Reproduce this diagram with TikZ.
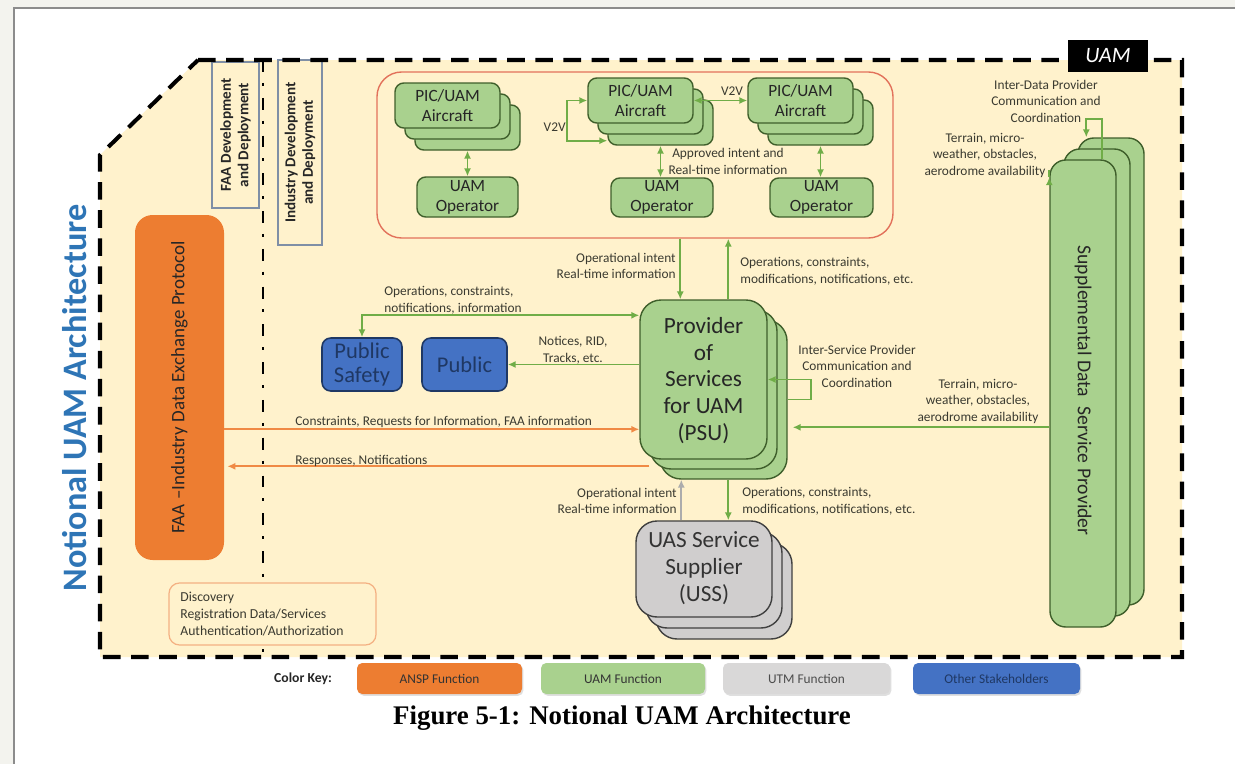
\documentclass[tikz,border=0pt]{standalone}
\usepackage{fontspec}
\setmainfont{Carlito}
\newfontfamily\capfont{Liberation Serif}
\usetikzlibrary{arrows.meta,fit,calc,shadows}
\definecolor{bgyel}{HTML}{FFF2CC}
\definecolor{gfill}{HTML}{A9D18E}
\definecolor{gline}{HTML}{3F5F2B}
\definecolor{garrow}{HTML}{70AD47}
\definecolor{orng}{HTML}{ED7D31}
\definecolor{orarr}{HTML}{F08A45}
\definecolor{bfill}{HTML}{4472C4}
\definecolor{bline}{HTML}{1F3864}
\definecolor{grfill}{HTML}{D0CECE}
\definecolor{grline}{HTML}{404040}
\definecolor{redl}{HTML}{E2725B}
\definecolor{ttlblue}{HTML}{2E75B6}
\definecolor{outerbg}{HTML}{F3F3EE}
\definecolor{framegr}{HTML}{8C8C8C}
\definecolor{lbltxt}{HTML}{3A3A30}
\definecolor{devgr}{HTML}{7F8FA6}
\begin{document}
\begin{tikzpicture}[x=0.02cm,y=-0.02cm,>={Latex[length=4.5pt,width=4pt]},
 lbl/.style={font=\fontsize{7.6}{9.4}\selectfont, text=lbltxt, inner sep=0pt, align=center},
 garr/.style={draw=garrow, line width=1.1pt},
 oarr/.style={draw=orarr, line width=1pt},
 grarr/.style={draw=gray!65, line width=1pt},
 gbox/.style={draw=gline, fill=gfill, line width=0.8pt, inner sep=0pt},
 acbox/.style={gbox, rounded corners=5pt},
 bigbox/.style={gbox, rounded corners=12pt},
 ussbox/.style={draw=grline, fill=grfill, line width=0.8pt, rounded corners=12pt, inner sep=0pt},
 pubbox/.style={draw=bline, fill=bfill, line width=0.9pt, rounded corners=5pt, inner sep=0pt},
 devbox/.style={draw=devgr, line width=0.7pt, inner sep=0pt},
 keybox/.style={rounded corners=3pt, inner sep=0pt, drop shadow={shadow xshift=0.8pt, shadow yshift=-1pt, opacity=0.25}},
 actxt/.style={align=center, inner sep=0pt, text=black!85, font=\fontsize{9.8}{11.5}\selectfont},
 bigtxt/.style={align=center, inner sep=0pt, text=black!85, font=\fontsize{13.2}{15.3}\selectfont},
 pubtxt/.style={align=center, inner sep=0pt, text=bline, font=\fontsize{12.8}{14.2}\selectfont},
 keytxt/.style={inner sep=0pt, font=\fontsize{7.6}{9}\selectfont},
]
\useasboundingbox (0,0) rectangle (1235,764);
% page background and frame
\fill[outerbg] (0,0) rectangle (1235,764);
\fill[white] (14,8) rectangle (1235,764);
\draw[framegr, line width=0.8pt] (14,764) -- (14,8) -- (1235,8);

% UAM region fill
\fill[bgyel] (198,60) -- (1182,60) -- (1182,657) -- (100,657) -- (100,155) -- cycle;

% title
\node[rotate=90, font=\bfseries\fontsize{19.5}{22}\selectfont, text=ttlblue] (title) at (75,398) {Notional UAM Architecture};

% dev/deploy boxes
\node[devbox, fit={(212,62)(259,208)}] (faadev) {};
\node[rotate=90, font=\bfseries\fontsize{8.6}{10}\selectfont, align=center, text=black!85] (faadevt) at (faadev.center) {FAA Development\\and Deployment};
\node[devbox, fit={(278,60)(322,245)}] (inddev) {};
\node[rotate=90, font=\bfseries\fontsize{8.6}{10}\selectfont, align=center, text=black!85] (inddevt) at (inddev.center) {Industry Development\\and Deployment};

% dash-dot separator
\draw[line width=1.7pt, dash pattern=on 6.8pt off 6.2pt on 1.7pt off 6.8pt] (263,60) -- (263,657);

% FAA exchange box
\node[fill=orng, rounded corners=10pt, inner sep=0pt, fit={(135,215)(224,560)}] (faa) {};
\node[rotate=90, font=\fontsize{10.8}{12}\selectfont, text=black!85] (faat) at (faa.center) {FAA --Industry Data Exchange Protocol};

% discovery box
\node[draw=orng!60, fill=bgyel, line width=0.7pt, rounded corners=6pt, inner sep=0pt, fit={(169,583)(376,645)}] (disc) {};
\node[anchor=west, align=left, font=\fontsize{7.8}{9.6}\selectfont, text=lbltxt, inner sep=0pt] (disct) at (180,614) {Discovery\\Registration Data/Services\\Authentication/Authorization};

% operations cluster
\node[draw=redl, line width=0.8pt, rounded corners=14pt, inner sep=0pt, fit={(377,72)(893,238)}] (ops) {};

\node[acbox, fit={(415,105)(520,150)}] (ac1c) {};
\node[acbox, fit={(405,94)(510,139)}] (ac1b) {};
\node[acbox, fit={(395,83)(500,128)}] (ac1) {};
\node[actxt] (ac1t) at (ac1.center) {PIC/UAM\\Aircraft};
\node[acbox, fit={(608,100)(713,145)}] (ac2c) {};
\node[acbox, fit={(598,89)(703,134)}] (ac2b) {};
\node[acbox, fit={(588,78)(693,123)}] (ac2) {};
\node[actxt] (ac2t) at (ac2.center) {PIC/UAM\\Aircraft};
\node[acbox, fit={(768,100)(873,145)}] (ac3c) {};
\node[acbox, fit={(758,89)(863,134)}] (ac3b) {};
\node[acbox, fit={(748,78)(853,123)}] (ac3) {};
\node[actxt] (ac3t) at (ac3.center) {PIC/UAM\\Aircraft};

\node[acbox, fit={(417,177)(518,217)}] (op1) {};
\node[actxt] (op1t) at (op1.center) {UAM\\Operator};
\node[acbox, fit={(611,178)(713,217)}] (op2) {};
\node[actxt] (op2t) at (op2.center) {UAM\\Operator};
\node[acbox, fit={(770,178)(873,217)}] (op3) {};
\node[actxt] (op3t) at (op3.center) {UAM\\Operator};

\draw[garr,<->] (ac1c.south) -- (ac1c.south |- op1.north);
\draw[garr,<->] (ac2c.south) -- (ac2c.south |- op2.north);
\draw[garr,<->] (ac3c.south) -- (ac3c.south |- op3.north);
\draw[garr,<->] (ac2.west) -- ++(-20,0) |- ($(ac2c.south west)+(0,-5)$);
\draw[garr,<->] (ac2.east) -- (ac3.west);
\node[lbl, anchor=east] (v2va) at (566,127) {V2V};
\node[lbl] (v2vb) at (732,91) {V2V};
\node[lbl] (appr) at (728,161.5) {Approved intent and\\Real-time information};

% supplemental data service provider
\node[bigbox, rounded corners=9pt, fit={(1078,138)(1144,605)}] (sdspc) {};
\node[bigbox, rounded corners=9pt, fit={(1064,149)(1130,616)}] (sdspb) {};
\node[bigbox, rounded corners=9pt, fit={(1050,160)(1116,627)}] (sdsp) {};
\node[rotate=-90, font=\fontsize{11.2}{12}\selectfont, text=black!85] (sdspt) at ($(sdsp.center)+(0,-3)$) {Supplemental Data\ \ Service Provider};
\draw[garr,->] ($(sdsp.north west)+(53,0)$) -- ++(0,-40) -| ($(sdspc.north west)+(9,0)$);
\node[lbl] (idp) at (1046,101) {Inter-Data Provider\\Communication and\\Coordination};
\draw[garr,->] ($(sdsp.north west)+(0,18)$) -- ($(sdsp.north west)+(0,18)$ -| ops.east);
\node[lbl] (ter1) at (985,155) {Terrain, micro-\\weather, obstacles,\\aerodrome availability};

% PSU
\node[bigbox, fit={(660,320)(787,479)}] (psuc) {};
\node[bigbox, fit={(650,310)(777,469)}] (psub) {};
\node[bigbox, fit={(640,300)(767,459)}] (psu) {};
\node[bigtxt] (psut) at ($(psu.center)+(0,1)$) {Provider\\of\\Services\\for UAM\\(PSU)};

\coordinate (d1) at ($(psu.north west)+(41,0)$);
\coordinate (u1) at ($(psu.north west)+(89,0)$);
\draw[garr,->] (d1 |- ops.south) -- (d1);
\draw[garr,->] (u1) -- (u1 |- ops.south);
\node[lbl, anchor=east, align=right] (oi1) at (676,266) {Operational intent\\Real-time information};
\node[lbl, anchor=west, align=left] (oc1) at (740,271) {Operations, constraints,\\modifications, notifications, etc.};

% inter-service loop
\draw[garr,->] (psuc.east) -- ++(23,0) |- (psu.east);
\node[lbl] (isp) at (857,366) {Inter-Service Provider\\Communication and\\Coordination};

% supplemental -> PSU
\coordinate (t2) at ($(psuc.north east)+(5,108)$);
\draw[garr,->] (t2 -| sdsp.west) -- (t2);
\node[lbl] (ter2) at (978,401) {Terrain, micro-\\weather, obstacles,\\aerodrome availability};

% public boxes
\node[pubbox, fit={(322,338)(402,391)}] (psafe) {};
\node[pubtxt] (psafet) at (psafe.center) {Public\\Safety};
\node[pubbox, fit={(422,338)(507,391)}] (pub) {};
\node[pubtxt] (pubt) at (pub.center) {Public};
\coordinate (p1) at ($(psu.north west)+(0,16)$);
\draw[garr,<->] (p1) -| (psafe.north);
\node[lbl, anchor=west, align=left] (oc2) at (384,300) {Operations, constraints,\\notifications, information};
\draw[garr,->] (psu.west |- pub.east) -- (pub.east);
\node[lbl] (notc) at (573,350) {Notices, RID,\\Tracks, etc.};

% orange arrows
\coordinate (o1) at ($(psu.north west)+(0,130)$);
\draw[oarr,->] (o1 -| faa.east) -- (o1);
\node[lbl, anchor=west] (crfi) at (295,422) {Constraints, Requests for Information, FAA information};
\coordinate (o2) at ($(psub.north west)+(0,157)$);
\draw[oarr,->] (o2) -- ($(o2 -| faa.east)+(3,0)$);
\node[lbl, anchor=west] (resp) at (295,461) {Responses, Notifications};

% USS
\node[ussbox, fit={(656,543)(792,639)}] (ussc) {};
\node[ussbox, fit={(646,532)(782,628)}] (ussb) {};
\node[ussbox, fit={(636,521)(772,617)}] (uss) {};
\node[bigtxt, text=black!80] (usst) at ($(uss.center)+(0,-1)$) {UAS Service\\Supplier\\(USS)};
\coordinate (g1) at ($(uss.north west)+(46,0)$);
\coordinate (g2) at ($(uss.north west)+(93,0)$);
\draw[grarr,->] (g1) -- (g1 |- psuc.south);
\draw[garr,->] (g2 |- psuc.south) -- (g2);
\node[lbl, anchor=east, align=right] (oi2) at (677,501) {Operational intent\\Real-time information};
\node[lbl, anchor=west, align=left] (oc3) at (742,501) {Operations, constraints,\\modifications, notifications, etc.};

% dashed boundary
\draw[black, line width=2.3pt, dash pattern=on 10pt off 6pt] (198,60) -- (1182,60) -- (1182,657) -- (100,657) -- (100,155) -- cycle;
\node[fill=black, inner sep=0pt, fit={(1068,40)(1148,72)}] (uamtag) {};
\node[text=white, inner sep=0pt, font=\itshape\fontsize{12.5}{14}\selectfont] (uamtagt) at (uamtag.center) {UAM};

% color key
\node[font=\bfseries\fontsize{7.8}{9}\selectfont, text=black!85] (ckey) at (303,679) {Color Key:};
\node[keybox, fill=orng, fit={(357,663)(522,694)}] (k1) {};
\node[keytxt, text=black!80] (k1t) at (k1.center) {ANSP Function};
\node[keybox, fill=gfill, fit={(541,663)(705,694)}] (k2) {};
\node[keytxt, text=black!80] (k2t) at (k2.center) {UAM Function};
\node[keybox, fill=grfill!80, fit={(723,663)(890,694)}] (k3) {};
\node[keytxt, text=black!70] (k3t) at (k3.center) {UTM Function};
\node[keybox, fill=bfill, fit={(913,663)(1080,694)}] (k4) {};
\node[keytxt, text=bline] (k4t) at (k4.center) {Other Stakeholders};

% caption
\node[font=\capfont\bfseries\fontsize{15.3}{18}\selectfont] (cap) at (622,718) {Figure 5-1: Notional UAM Architecture};
\end{tikzpicture}
\end{document}
